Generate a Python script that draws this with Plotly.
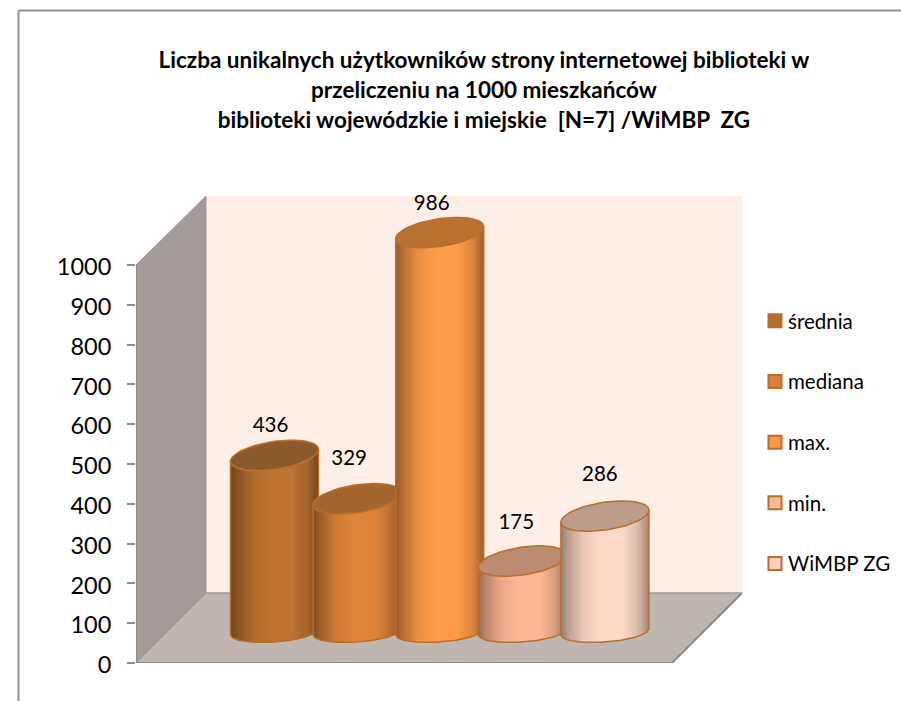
import math
import plotly.graph_objects as go

# ---------- data ----------
categories = ["średnia", "mediana", "max.", "min.", "WiMBP ZG"]
values = [436, 329, 986, 175, 286]
y_ticks = [0, 100, 200, 300, 400, 500, 600, 700, 800, 900, 1000]
title_lines = [
    "Liczba unikalnych użytkowników strony internetowej biblioteki w",
    "przeliczeniu na 1000 mieszkańców",
    "biblioteki wojewódzkie i miejskie  [N=7] /WiMBP  ZG",
]

# ---------- styles ----------
body_colors = ["#BE7432", "#DE853A", "#FF9B46", "#FFB794", "#FFDAC8"]
top_colors = ["#8B5A2B", "#A5652E", "#B9712F", "#BC8C70", "#BD9C8C"]
legend_colors = ["#B36D2F", "#D68138", "#FB9845", "#F9B895", "#FBD0BE"]
edge_color = "#BA6E2C"
axis_color = "#8C8C8C"
FONT = "Lato"

# pixel geometry of the plot
W, H = 901, 701
LEFT, RIGHT, BOTTOM, TOP = 136, 742, 663, 196
PX_Y = 0.398          # px per value unit
PX_X = 82.6           # px per category step
C0 = 274.5            # px of first category
DEPTH_X = 70 / PX_X
DEPTH_Y = 70 / PX_Y
X_MIN = (LEFT - C0) / PX_X
X_MAX = (RIGHT - C0) / PX_X
Y_MAX = (BOTTOM - TOP) / PX_Y
BASE = 78.0
SCALE = 1.0176
HW = 44 / PX_X
TILT = 6 / PX_Y
SEMI = 14 / PX_Y
BASE_TILT = 3 / PX_Y
BASE_SEMI = 10 / PX_Y
STRIPS = 44
label_dx = [-4, -8, -8, -6, -5]
label_dy = [28, 39, 28, 37, 40]


def shade(hex_color, f):
    r, g, b = (int(hex_color[i:i + 2], 16) for i in (1, 3, 5))
    return "#%02X%02X%02X" % (int(r * f), int(g * f), int(b * f))


def shade_factor(u):
    stops = [(0, 0.58), (0.08, 0.72), (0.25, 0.92), (0.45, 1.0), (0.7, 1.0), (0.88, 0.85), (1, 0.62)]
    for (a, fa), (b, fb) in zip(stops, stops[1:]):
        if u <= b:
            return fa + (fb - fa) * (u - a) / (b - a)
    return stops[-1][1]


fig = go.Figure()


def poly(xs, ys, fill, line=None, width=1):
    fig.add_trace(go.Scatter(
        x=xs, y=ys, mode="lines", fill="toself", fillcolor=fill,
        line=dict(color=line or fill, width=width),
        showlegend=False, hoverinfo="skip"))


def line(xs, ys, color=axis_color, width=2):
    fig.add_trace(go.Scatter(x=xs, y=ys, mode="lines", line=dict(color=color, width=width),
                             showlegend=False, hoverinfo="skip"))


# walls and floor
poly([X_MIN + DEPTH_X, X_MAX, X_MAX, X_MIN + DEPTH_X], [DEPTH_Y, DEPTH_Y, Y_MAX, Y_MAX], "#FDEFE8")
poly([X_MIN, X_MIN + DEPTH_X, X_MIN + DEPTH_X, X_MIN], [0, DEPTH_Y, Y_MAX, 1000], "#A39B97")
poly([X_MIN, X_MIN + DEPTH_X, X_MAX, X_MAX - DEPTH_X], [0, DEPTH_Y, DEPTH_Y, 0], "#BFB5B1")
line([X_MIN, X_MIN], [0, 1000])
line([X_MIN, X_MAX - DEPTH_X, X_MAX], [0, 0, DEPTH_Y])
line([X_MIN, X_MIN + DEPTH_X], [0, DEPTH_Y], "#9A9390", 1)
line([X_MIN + DEPTH_X, X_MAX], [DEPTH_Y, DEPTH_Y], "#8F8F8F", 1)

# cylinders: overlapping strips, each painted from its left edge to the cylinder's right end
for i, v in enumerate(values):
    top = BASE + v * SCALE
    cosines = [-1 + 2 * k / STRIPS for k in range(STRIPS + 1)]
    xs = [i + HW * c for c in cosines]
    roots = [math.sqrt(max(0.0, 1 - c * c)) for c in cosines]
    upper = [top + TILT * c - SEMI * r for c, r in zip(cosines, roots)]
    lower = [BASE + BASE_TILT * c - BASE_SEMI * r for c, r in zip(cosines, roots)]
    for k in range(STRIPS):
        u = (k + 0.5) / STRIPS
        px = xs[k:]
        fig.add_trace(go.Scatter(
            x=px + px[::-1],
            y=lower[k:] + upper[k:][::-1],
            mode="lines", fill="toself", fillcolor=shade(body_colors[i], shade_factor(u)),
            line=dict(width=0), showlegend=False, hoverinfo="skip"))
    line([xs[0]] + xs + [xs[-1]], [upper[0]] + lower + [upper[-1]], edge_color, 1.5)
    full = [2 * math.pi * k / 72 for k in range(73)]
    poly([i + HW * math.cos(t) for t in full],
         [top + TILT * math.cos(t) + SEMI * math.sin(t) for t in full],
         top_colors[i], edge_color, 1.5)

# value labels
fig.add_trace(go.Scatter(
    x=[i + label_dx[i] / PX_X for i in range(len(values))],
    y=[BASE + v * SCALE + label_dy[i] / PX_Y for i, v in enumerate(values)],
    text=[str(v) for v in values], mode="text", textposition="middle center",
    textfont=dict(family=FONT, size=20.5, color="#000000"),
    showlegend=False, hoverinfo="skip", cliponaxis=False))

# legend entries
for name, col in zip(categories, legend_colors):
    fig.add_trace(go.Scatter(
        x=[None], y=[None], mode="markers", name=name, legendgroup=name,
        marker=dict(symbol="square", size=13, color=col, line=dict(color=edge_color, width=2))))

title_html = "<br>".join(f'<span style="font-size:22.5px">{t}</span>' for t in title_lines)

fig.update_layout(
    width=W, height=H,
    margin=dict(l=0, r=0, t=0, b=0, autoexpand=False),
    paper_bgcolor="#FFFFFF", plot_bgcolor="rgba(0,0,0,0)",
    font=dict(family=FONT, color="#000000"),
    title=dict(text=f"<b>{title_html}</b>", font=dict(family=FONT, size=23),
               x=484 / W, xanchor="center", y=1 - 68 / H, yanchor="top"),
    xaxis=dict(domain=[LEFT / W, RIGHT / W], range=[X_MIN, X_MAX], visible=False, fixedrange=True),
    yaxis=dict(domain=[1 - BOTTOM / H, 1 - TOP / H], range=[0, Y_MAX], tickvals=y_ticks,
               ticks="outside", ticklen=8, tickwidth=2, tickcolor=axis_color,
               showgrid=False, zeroline=False, showline=False, ticklabelstandoff=11,
               ticklabelshift=2,
               tickfont=dict(family=FONT, size=23.5, color="#000000"), fixedrange=True),
    legend=dict(x=748 / W, xanchor="left", y=1 - 301 / H, yanchor="top",
                font=dict(family=FONT, size=20.5), traceorder="grouped",
                tracegroupgap=31, bgcolor="rgba(0,0,0,0)"),
    shapes=[
        dict(type="line", xref="paper", yref="paper", x0=18.5 / W, x1=1, y0=1 - 10.5 / H, y1=1 - 10.5 / H,
             line=dict(color="#8F8F8F", width=2)),
        dict(type="line", xref="paper", yref="paper", x0=18.5 / W, x1=18.5 / W, y0=0, y1=1 - 10.5 / H,
             line=dict(color="#8F8F8F", width=2)),
    ],
)

fig.write_html(
    "out.html",
    config={"displayModeBar": False},
    post_script=(
        "document.body.style.margin='0';"
        "document.querySelectorAll('.legendpoints').forEach(function(e){e.setAttribute('transform','translate(7,0)');});"
    ),
)
